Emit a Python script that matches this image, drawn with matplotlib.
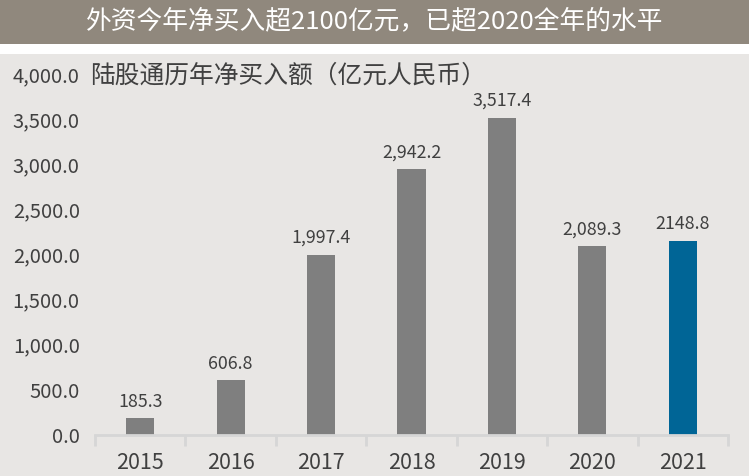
import matplotlib.pyplot as plt
from matplotlib.patches import Rectangle
from matplotlib.ticker import FixedLocator, FuncFormatter

plt.rcParams['font.family'] = ['Noto Sans CJK SC', 'DejaVu Sans']

years = ['2015', '2016', '2017', '2018', '2019', '2020', '2021']
net_buy = [185.3, 606.8, 1997.4, 2942.2, 3517.4, 2089.3, 2148.8]
bar_labels = ['185.3', '606.8', '1,997.4', '2,942.2', '3,517.4', '2,089.3', '2148.8']
bar_colors = ['#7f7f7f'] * 6 + ['#006596']

bg = '#e8e6e4'
fig = plt.figure(figsize=(7.49, 4.76), dpi=100, facecolor=bg)

# title banner + white strip under it
fig.patches.append(Rectangle((0, 1 - 44 / 476), 1, 44 / 476, transform=fig.transFigure,
                             facecolor='#90887d', edgecolor='none', zorder=0))
fig.patches.append(Rectangle((0, 1 - 54 / 476), 1, 10 / 476, transform=fig.transFigure,
                             facecolor='white', edgecolor='none', zorder=0))
fig.text(0.5, 1 - 21 / 476, '外资今年净买入超2100亿元，已超2020全年的水平',
         ha='center', va='center', color='white', fontsize=18.5)

ax = fig.add_axes([95 / 749, 1 - 435 / 476, 633 / 749, 361 / 476])
ax.set_facecolor(bg)

x = range(len(years))
ax.bar(x, net_buy, width=0.31, color=bar_colors, zorder=2)
for i, (v, lab) in enumerate(zip(net_buy, bar_labels)):
    ax.text(i, v + 185, lab, ha='center', va='center', fontsize=12.8, color='#404040')

ax.set_xlim(-0.5, len(years) - 0.5)
ax.set_ylim(0, 4000)
ax.set_yticks([0, 500, 1000, 1500, 2000, 2500, 3000, 3500, 4000])
ax.yaxis.set_major_formatter(FuncFormatter(lambda v, p: f'{v:,.1f}'))
ax.tick_params(axis='y', length=0, labelsize=14.5, labelcolor='#404040', pad=11)

ax.set_xticks(list(x))
ax.set_xticklabels(years)
ax.tick_params(axis='x', which='major', length=0, labelsize=15.5, labelcolor='#404040', pad=12)
ax.xaxis.set_minor_locator(FixedLocator([i - 0.5 for i in range(len(years) + 1)]))
ax.tick_params(axis='x', which='minor', length=8, width=2, color='#d6d6d6', direction='out')

for s in ['top', 'right', 'left']:
    ax.spines[s].set_visible(False)
ax.spines['bottom'].set_color('#d6d6d6')
ax.spines['bottom'].set_linewidth(2)

ax.text(-0.55, 3985, '陆股通历年净买入额（亿元人民币）', ha='left', va='center',
        fontsize=17.8, color='#404040')

fig.savefig('out.png', dpi=100, facecolor=bg)
